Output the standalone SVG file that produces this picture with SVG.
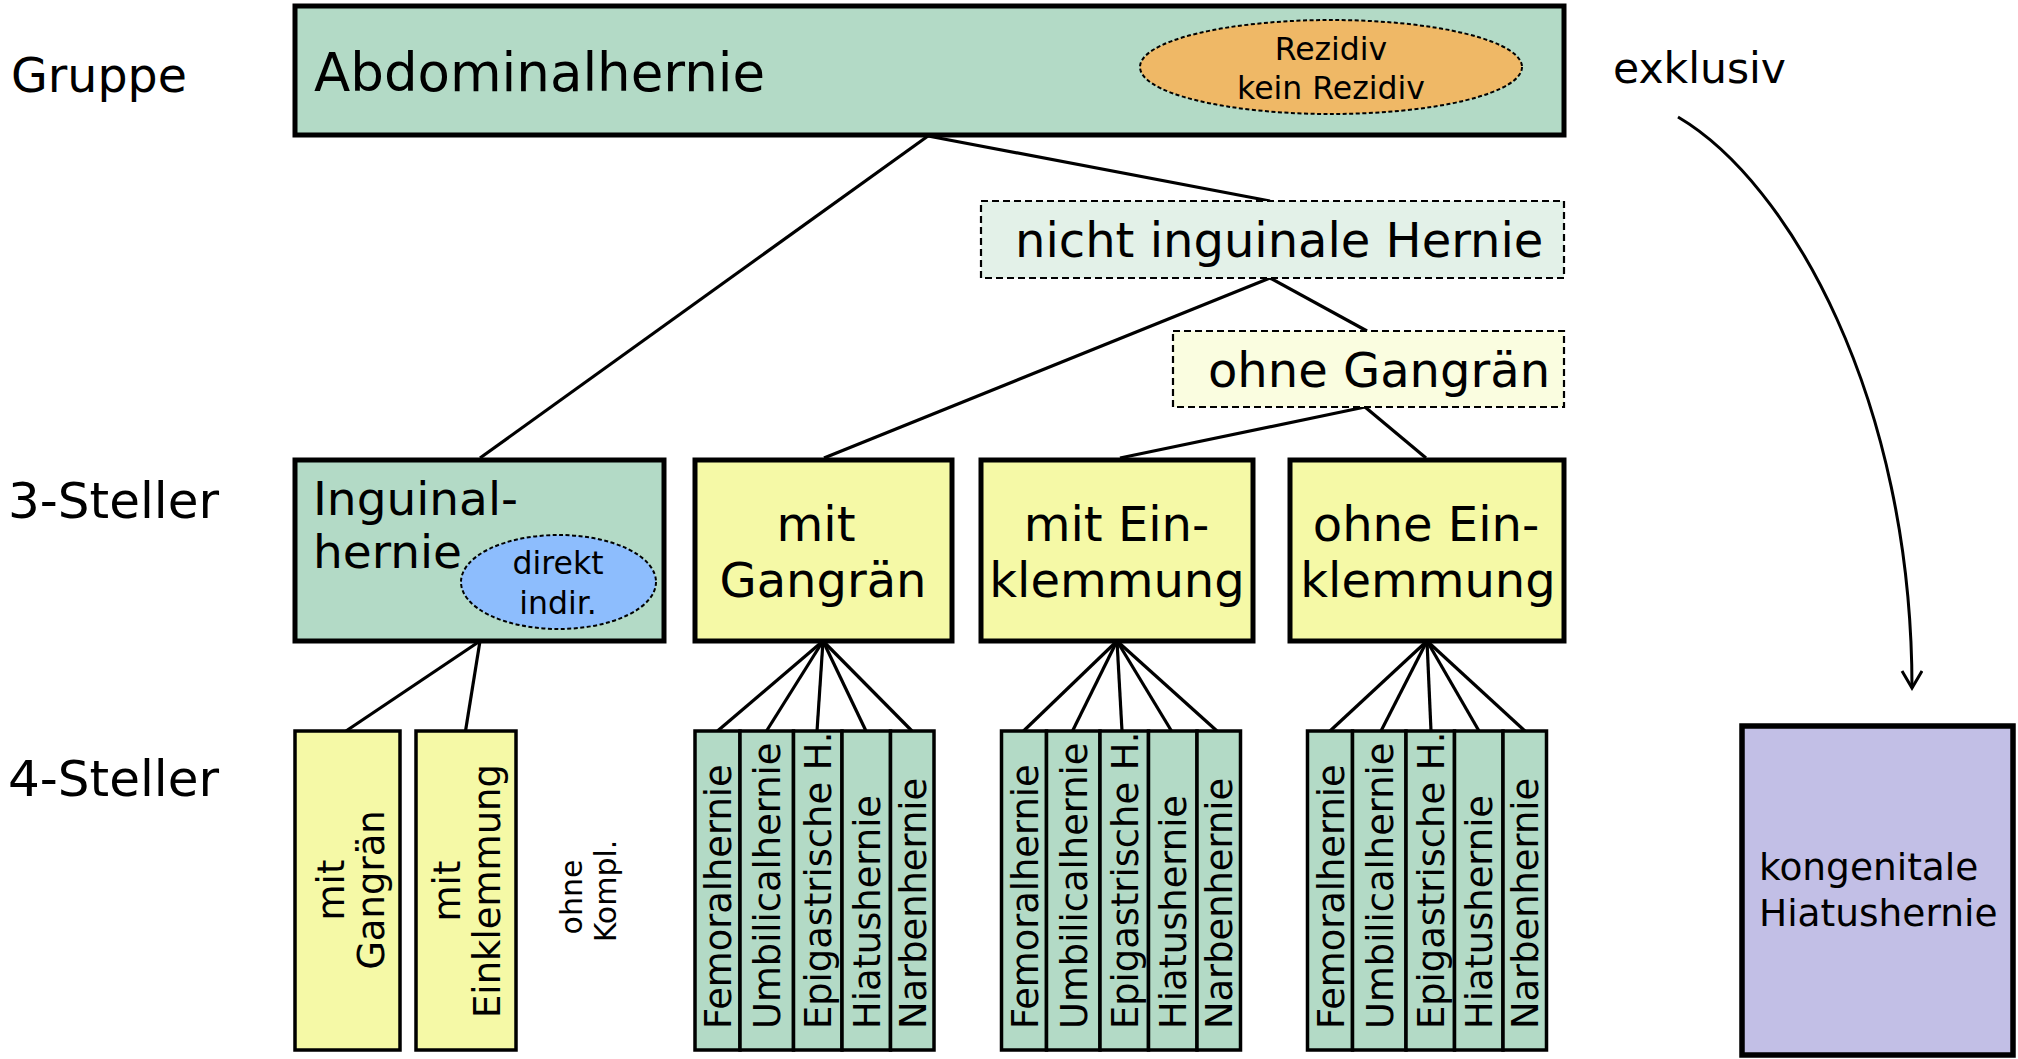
<svg xmlns="http://www.w3.org/2000/svg" width="2018" height="1059" viewBox="0 0 2018 1059">
<style>
text{font-family:"DejaVu Sans","Liberation Sans",sans-serif;fill:#000}
.box{stroke:#000;stroke-width:5}
.sm{stroke:#000;stroke-width:3.5}
.g{fill:#b3dac6}
.y{fill:#f5f9a6}
.dash{stroke:#000;stroke-width:2.2;stroke-dasharray:7 4}
.ell{stroke:#000;stroke-width:2;stroke-dasharray:4 2.5}
.con line{stroke:#000;stroke-width:3.2}
.lbl{font-size:48px}
.t3{font-size:48px;text-anchor:middle}
.v{font-size:36.8px}
.vy{font-size:37px;text-anchor:middle}
</style>
<defs>
<marker id="arr" markerUnits="userSpaceOnUse" markerWidth="30" markerHeight="30" refX="18" refY="11" orient="auto">
<path d="M1,1 L18,11 L1,21" fill="none" stroke="#000" stroke-width="3"/>
</marker>
</defs>

<g id="labels">
<text x="11" y="92" style="font-size:47.5px">Gruppe</text>
<text x="8" y="518" style="font-size:50px">3-Steller</text>
<text x="8" y="796" style="font-size:50px">4-Steller</text>
<text x="1613" y="83" style="font-size:42.5px">exklusiv</text>
</g>

<g id="connectors" class="con">
<line x1="928" y1="136" x2="480" y2="458"/>
<line x1="928" y1="136" x2="1270" y2="201"/>
<line x1="1270" y1="278" x2="824" y2="458"/>
<line x1="1270" y1="278" x2="1367" y2="331"/>
<line x1="1365" y1="407" x2="1120" y2="458"/>
<line x1="1365" y1="407" x2="1426" y2="458"/>
<line x1="480" y1="641" x2="346" y2="731"/>
<line x1="480" y1="641" x2="465.5" y2="731"/>
<line x1="823" y1="641" x2="717.5" y2="731"/>
<line x1="823" y1="641" x2="766.5" y2="731"/>
<line x1="823" y1="641" x2="817" y2="731"/>
<line x1="823" y1="641" x2="866" y2="731"/>
<line x1="823" y1="641" x2="912" y2="731"/>
<line x1="1117" y1="641" x2="1023.5" y2="731"/>
<line x1="1117" y1="641" x2="1072.5" y2="731"/>
<line x1="1117" y1="641" x2="1122" y2="731"/>
<line x1="1117" y1="641" x2="1171.5" y2="731"/>
<line x1="1117" y1="641" x2="1217" y2="731"/>
<line x1="1427" y1="641" x2="1330" y2="731"/>
<line x1="1427" y1="641" x2="1381" y2="731"/>
<line x1="1427" y1="641" x2="1431" y2="731"/>
<line x1="1427" y1="641" x2="1479" y2="731"/>
<line x1="1427" y1="641" x2="1525" y2="731"/>
<path d="M1678,117 C1790,183 1912,400 1912,688" fill="none" stroke="#000" stroke-width="3" marker-end="url(#arr)"/>
</g>

<g id="abdominalhernie">
<rect class="box g" x="295" y="6" width="1269" height="129"/>
<text x="314" y="91" style="font-size:53px">Abdominalhernie</text>
<ellipse class="ell" cx="1331" cy="67" rx="191" ry="47" fill="#efb866"/>
<text x="1331" y="60" style="font-size:31.5px;text-anchor:middle">Rezidiv</text>
<text x="1331" y="99" style="font-size:31.5px;text-anchor:middle">kein Rezidiv</text>
</g>

<g id="nicht-inguinale">
<rect class="dash" x="981" y="201" width="583" height="77" fill="#e3f1e8"/>
<text x="1015" y="257" class="lbl">nicht inguinale Hernie</text>
</g>

<g id="ohne-gangraen">
<rect class="dash" x="1173" y="331" width="391" height="76" fill="#fafde0"/>
<text x="1208" y="387" class="lbl">ohne Gangrän</text>
</g>

<g id="inguinalhernie">
<rect class="box g" x="295" y="460" width="369" height="181"/>
<text x="313" y="515" style="font-size:47px">Inguinal-</text>
<text x="313" y="568" style="font-size:47px">hernie</text>
<ellipse class="ell" cx="558.5" cy="582" rx="97.5" ry="47" fill="#8dbdfd"/>
<text x="558" y="574" style="font-size:31.5px;text-anchor:middle">direkt</text>
<text x="558" y="614" style="font-size:31.5px;text-anchor:middle">indir.</text>
</g>

<g id="mit-gangraen">
<rect class="box y" x="695" y="460" width="257" height="181"/>
<text x="816" y="541" class="t3">mit</text>
<text x="823" y="597" class="t3">Gangrän</text>
</g>

<g id="mit-einklemmung">
<rect class="box y" x="981" y="460" width="272" height="181"/>
<text x="1116.5" y="541" class="t3">mit Ein-</text>
<text x="1117" y="597" class="t3">klemmung</text>
</g>

<g id="ohne-einklemmung">
<rect class="box y" x="1290" y="460" width="274" height="181"/>
<text x="1426" y="541" class="t3">ohne Ein-</text>
<text x="1428" y="597" class="t3">klemmung</text>
</g>

<g id="ing-mit-gangraen">
<rect class="sm y" x="295" y="731" width="105" height="319"/>
<text class="vy" transform="translate(344,890) rotate(-90)">mit</text>
<text class="vy" transform="translate(384,890) rotate(-90)">Gangrän</text>
</g>

<g id="ing-mit-einklemmung">
<rect class="sm y" x="416" y="731" width="100" height="319"/>
<text class="vy" transform="translate(460,891) rotate(-90)">mit</text>
<text class="vy" transform="translate(500,891) rotate(-90)">Einklemmung</text>
</g>

<g id="ing-ohne-kompl">
<text style="font-size:30px;text-anchor:middle" transform="translate(582,897) rotate(-90)">ohne</text>
<text style="font-size:30px;text-anchor:middle" transform="translate(616,891) rotate(-90)">Kompl.</text>
</g>

<g id="g1-femoral"><rect class="sm g" x="695" y="731" width="45" height="319"/><text class="v" transform="translate(731,1029) rotate(-90)">Femoralhernie</text></g>
<g id="g1-umbilical"><rect class="sm g" x="740" y="731" width="53.5" height="319"/><text class="v" transform="translate(780.3,1029) rotate(-90)">Umbilicalhernie</text></g>
<g id="g1-epigastrisch"><rect class="sm g" x="793.5" y="731" width="48.5" height="319"/><text class="v" transform="translate(831.3,1029) rotate(-90)">Epigastrische H.</text></g>
<g id="g1-hiatus"><rect class="sm g" x="842" y="731" width="48.5" height="319"/><text class="v" transform="translate(879.8,1029) rotate(-90)">Hiatushernie</text></g>
<g id="g1-narben"><rect class="sm g" x="890.5" y="731" width="43.5" height="319"/><text class="v" transform="translate(925.8,1029) rotate(-90)">Narbenhernie</text></g>

<g id="g2-femoral"><rect class="sm g" x="1001.5" y="731" width="45" height="319"/><text class="v" transform="translate(1037.5,1029) rotate(-90)">Femoralhernie</text></g>
<g id="g2-umbilical"><rect class="sm g" x="1046.5" y="731" width="53.5" height="319"/><text class="v" transform="translate(1086.8,1029) rotate(-90)">Umbilicalhernie</text></g>
<g id="g2-epigastrisch"><rect class="sm g" x="1100" y="731" width="48.5" height="319"/><text class="v" transform="translate(1137.8,1029) rotate(-90)">Epigastrische H.</text></g>
<g id="g2-hiatus"><rect class="sm g" x="1148.5" y="731" width="48.5" height="319"/><text class="v" transform="translate(1186.3,1029) rotate(-90)">Hiatushernie</text></g>
<g id="g2-narben"><rect class="sm g" x="1197" y="731" width="43.5" height="319"/><text class="v" transform="translate(1232.3,1029) rotate(-90)">Narbenhernie</text></g>

<g id="g3-femoral"><rect class="sm g" x="1307.5" y="731" width="45" height="319"/><text class="v" transform="translate(1343.5,1029) rotate(-90)">Femoralhernie</text></g>
<g id="g3-umbilical"><rect class="sm g" x="1352.5" y="731" width="53.5" height="319"/><text class="v" transform="translate(1392.8,1029) rotate(-90)">Umbilicalhernie</text></g>
<g id="g3-epigastrisch"><rect class="sm g" x="1406" y="731" width="48.5" height="319"/><text class="v" transform="translate(1443.8,1029) rotate(-90)">Epigastrische H.</text></g>
<g id="g3-hiatus"><rect class="sm g" x="1454.5" y="731" width="48.5" height="319"/><text class="v" transform="translate(1492.3,1029) rotate(-90)">Hiatushernie</text></g>
<g id="g3-narben"><rect class="sm g" x="1503" y="731" width="43.5" height="319"/><text class="v" transform="translate(1538.3,1029) rotate(-90)">Narbenhernie</text></g>

<g id="kongenitale">
<rect x="1742" y="726" width="271" height="329" fill="#c2bfe6" stroke="#000" stroke-width="5.5"/>
<text x="1759" y="880" style="font-size:37.5px">kongenitale</text>
<text x="1759" y="926" style="font-size:37.5px">Hiatushernie</text>
</g>
</svg>
